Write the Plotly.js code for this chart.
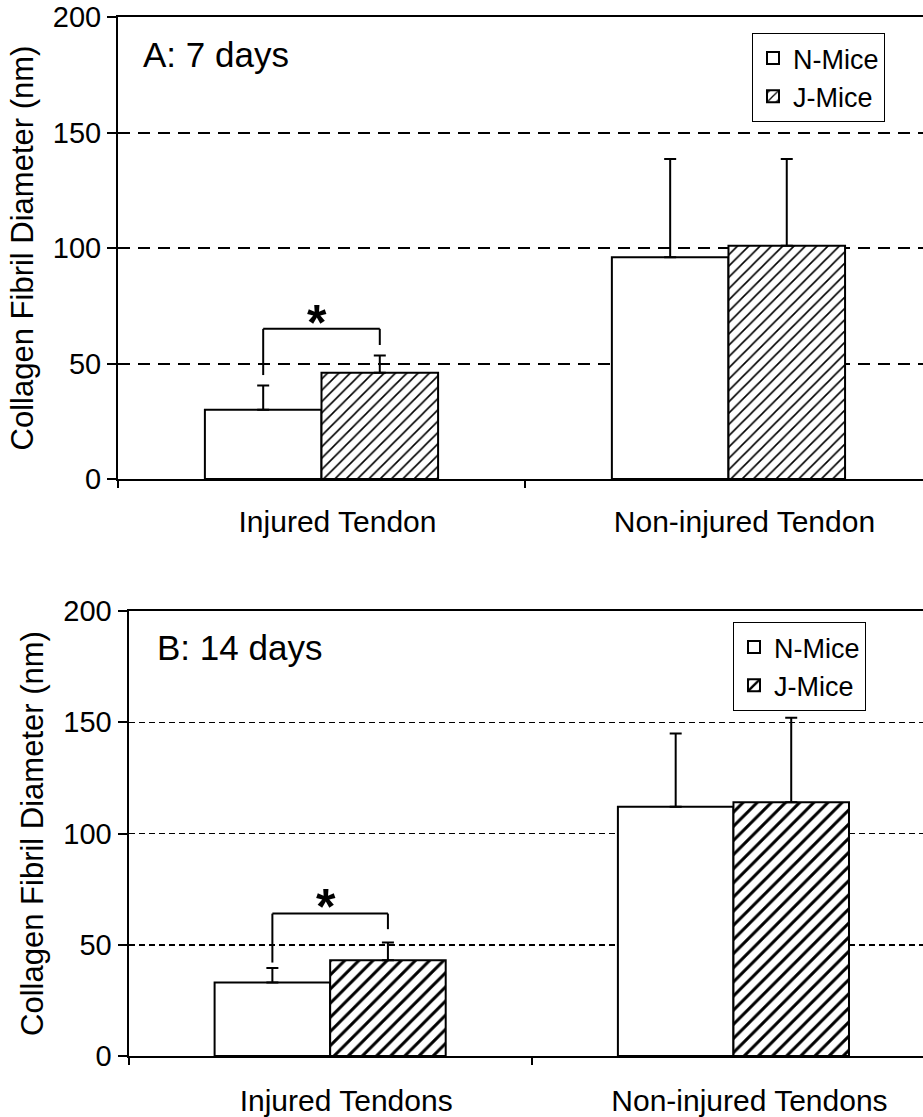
<!DOCTYPE html>
<html>
<head>
<meta charset="utf-8">
<script src="https://cdn.plot.ly/plotly-3.0.1.min.js"></script>
<style>html,body{margin:0;padding:0;background:#fff;}#chart{width:923px;height:1117px;}</style>
</head>
<body>
<div id="chart"></div>
<script>
// ---- data ----
const categoriesA = ['Injured Tendon', 'Non-injured Tendon'];
const categoriesB = ['Injured Tendons', 'Non-injured Tendons'];
const seriesNames = ['N-Mice', 'J-Mice'];

const nMiceA = [30, 96];
const nMiceAErr = [10.5, 42.5];
const jMiceA = [46, 101];
const jMiceAErr = [7.5, 37.5];

const nMiceB = [33, 112];
const nMiceBErr = [6.5, 33];
const jMiceB = [43, 114];
const jMiceBErr = [8, 38];

const errMinus = [0, 0];
const yTicks = [0, 50, 100, 150, 200];
const yTitle = 'Collagen Fibril Diameter (nm)';
const panelLabels = ['A: 7 days', 'B: 14 days'];

// significance brackets: [top, left leg bottom, right leg bottom, asterisk y]
const bracketA = [65, 45, 58, 67.5];
const bracketB = [64, 42, 57, 67];

// ---- style ----
const FONT = 'Liberation Sans, Arial, Helvetica, sans-serif';
const BARGAP = 0.427;
const half = (1 - BARGAP) / 4;

function errBar(arr) {
  return {type: 'data', symmetric: false, array: arr, arrayminus: errMinus,
          color: '#000', thickness: 2, width: 6};
}

const traces = [
  {type: 'bar', name: seriesNames[0], x: categoriesA, y: nMiceA, xaxis: 'x', yaxis: 'y',
   legend: 'legend',
   marker: {color: '#fff', line: {color: '#000', width: 2}}, error_y: errBar(nMiceAErr)},
  {type: 'bar', name: seriesNames[1], x: categoriesA, y: jMiceA, xaxis: 'x', yaxis: 'y',
   legend: 'legend',
   marker: {color: '#fff', line: {color: '#000', width: 2},
            pattern: {shape: '/', fgcolor: '#000', bgcolor: '#fff', size: 8, solidity: 0.2}},
   error_y: errBar(jMiceAErr)},
  {type: 'bar', name: seriesNames[0], x: categoriesB, y: nMiceB, xaxis: 'x2', yaxis: 'y2',
   legend: 'legend2',
   marker: {color: '#fff', line: {color: '#000', width: 2}}, error_y: errBar(nMiceBErr)},
  {type: 'bar', name: seriesNames[1], x: categoriesB, y: jMiceB, xaxis: 'x2', yaxis: 'y2',
   legend: 'legend2',
   marker: {color: '#fff', line: {color: '#000', width: 2},
            pattern: {shape: '/', fgcolor: '#000', bgcolor: '#fff', size: 10, solidity: 0.3}},
   error_y: errBar(jMiceBErr)}
];

function bracketShapes(b, xr, yr) {
  const s = {type: 'line', xref: xr, yref: yr, line: {color: '#000', width: 2}};
  return [
    Object.assign({}, s, {x0: -half, x1: -half, y0: b[1], y1: b[0]}),
    Object.assign({}, s, {x0: -half, x1: half, y0: b[0], y1: b[0]}),
    Object.assign({}, s, {x0: half, x1: half, y0: b[0], y1: b[2]})
  ];
}

function xAxis(domain, rmax, anchor, standoff) {
  return {domain: domain, range: [-0.5, rmax], anchor: anchor, type: 'category',
          showline: true, linewidth: 2, linecolor: '#000', mirror: true,
          ticks: 'outside', tickson: 'boundaries', ticklen: 7, tickwidth: 2, tickcolor: '#000',
          tickfont: {family: FONT, size: 30, color: '#000'}, ticklabelshift: 16,
          ticklabelstandoff: standoff,
          showgrid: false, zeroline: false, fixedrange: true};
}
function yAxis(domain, anchor, dash, gw) {
  return {domain: domain, range: [0, 200], anchor: anchor, tickvals: yTicks,
          showline: true, linewidth: 2, linecolor: '#000',
          ticks: 'outside', ticklen: 9, tickwidth: 2, tickcolor: '#000',
          tickfont: {family: FONT, size: 29, color: '#000'},
          showgrid: true, gridcolor: '#000', gridwidth: gw, griddash: dash,
          zeroline: false, fixedrange: true,
          title: {text: yTitle, font: {family: FONT, size: 31, color: '#000'}, standoff: 10}};
}

const legendBase = {xanchor: 'left', yanchor: 'top', bordercolor: '#000', borderwidth: 1,
                    bgcolor: '#fff', font: {family: FONT, size: 27, color: '#000'},
                    tracegroupgap: 0};

const layout = {
  width: 923, height: 1117,
  margin: {l: 0, r: 0, t: 0, b: 0},
  paper_bgcolor: '#fff', plot_bgcolor: '#fff',
  barmode: 'group', bargap: BARGAP, bargroupgap: 0,
  showlegend: true,
  font: {family: FONT, color: '#000'},
  xaxis: xAxis([118 / 923, 1], 1.478, 'y', 15),
  yaxis: yAxis([1 - 479 / 1117, 1 - 17 / 1117], 'x', '12px,8px', 2),
  xaxis2: xAxis([128.5 / 923, 1], 1.470, 'y2', 17),
  yaxis2: yAxis([1 - 1056 / 1117, 1 - 611 / 1117], 'x2', '6px,4px', 1.5),
  legend: Object.assign({}, legendBase, {x: 752 / 923, y: 1 - 33 / 1117}),
  legend2: Object.assign({}, legendBase, {x: 733 / 923, y: 1 - 622 / 1117}),
  shapes: bracketShapes(bracketA, 'x', 'y').concat(bracketShapes(bracketB, 'x2', 'y2')),
  annotations: [
    {text: panelLabels[0], xref: 'paper', yref: 'paper', x: 141 / 923, y: 1 - 54 / 1117,
     xanchor: 'left', yanchor: 'middle', showarrow: false,
     font: {family: FONT, size: 35, color: '#000'}},
    {text: panelLabels[1], xref: 'paper', yref: 'paper', x: 155 / 923, y: 1 - 647 / 1117,
     xanchor: 'left', yanchor: 'middle', showarrow: false,
     font: {family: FONT, size: 35, color: '#000'}},
    {text: '<b>*</b>', xref: 'x', yref: 'y', x: -0.01, y: bracketA[3], showarrow: false,
     xanchor: 'center', yanchor: 'middle', font: {family: FONT, size: 50, color: '#000'}},
    {text: '<b>*</b>', xref: 'x2', yref: 'y2', x: -0.01, y: bracketB[3], showarrow: false,
     xanchor: 'center', yanchor: 'middle', font: {family: FONT, size: 50, color: '#000'}}
  ]
};

Plotly.newPlot('chart', traces, layout, {displayModeBar: false, staticPlot: true});
</script>
</body>
</html>
